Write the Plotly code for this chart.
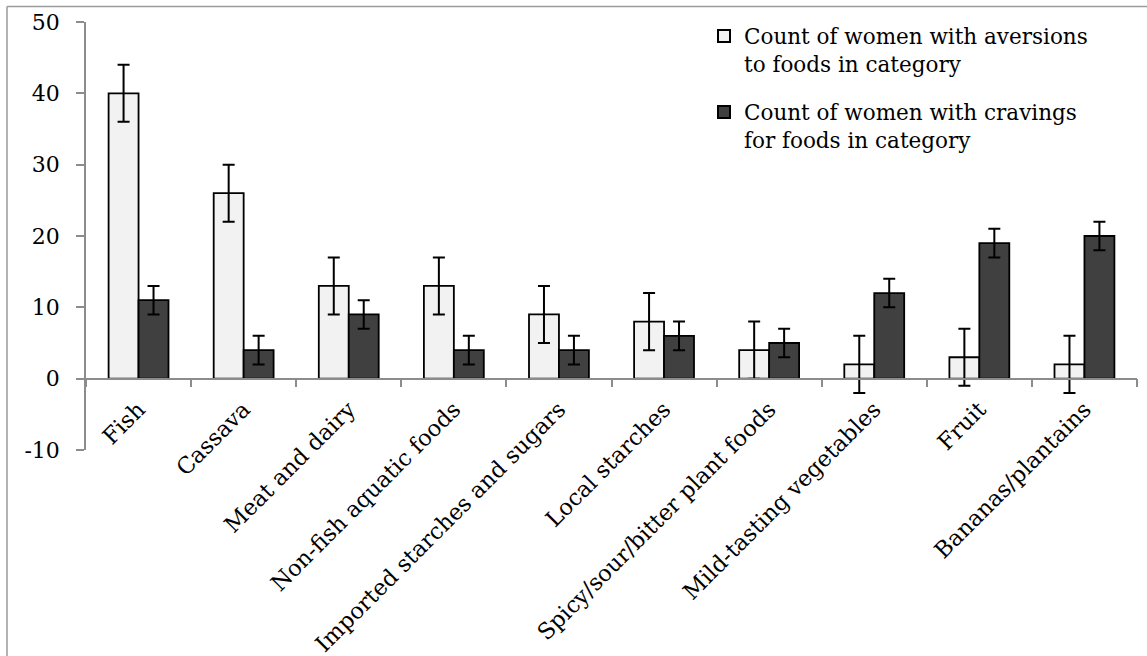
import plotly.graph_objects as go

categories = [
    "Fish", "Cassava", "Meat and dairy", "Non-fish aquatic foods",
    "Imported starches and sugars", "Local starches",
    "Spicy/sour/bitter plant foods", "Mild-tasting vegetables",
    "Fruit", "Bananas/plantains",
]
aversions = [40, 26, 13, 13, 9, 8, 4, 2, 3, 2]
aversions_err = [4, 4, 4, 4, 4, 4, 4, 4, 4, 4]
cravings = [11, 4, 9, 4, 4, 6, 5, 12, 19, 20]
cravings_err = [2, 2, 2, 2, 2, 2, 2, 2, 2, 2]

series_names = [
    "Count of women with aversions<br>to foods in category",
    "Count of women with cravings<br>for foods in category",
]
y_ticks = [-10, 0, 10, 20, 30, 40, 50]
y_tick_text = ["-10", "0", "10", "20", "30", "40", "50"]

FONT = "DejaVu Serif"
AXIS_GREY = "#8c8c8c"

W, H = 1147, 656
L, R, T, B = 86, 10, 21.5, 206
plot_w = W - L - R
plot_h = H - T - B


def px_x(px):
    return (px - L) / plot_w


def px_y(py):
    return (H - B - py) / plot_h


fig = go.Figure()
fig.add_trace(go.Bar(
    x=categories, y=aversions, name=series_names[0], legendgroup="a",
    marker=dict(color="#f2f2f2", line=dict(color="black", width=1.8)),
    error_y=dict(type="data", array=aversions_err, color="black",
                 thickness=2, width=6),
))
fig.add_trace(go.Bar(
    x=categories, y=cravings, name=series_names[1], legendgroup="c",
    marker=dict(color="#404040", line=dict(color="black", width=1.8)),
    error_y=dict(type="data", array=cravings_err, color="black",
                 thickness=2, width=6),
))

# outer frame of the chart area
frame_x = px_x(7)
frame_y = px_y(6)
fig.add_shape(type="line", xref="paper", yref="paper",
              x0=frame_x, x1=frame_x, y0=frame_y, y1=-1,
              line=dict(color="#9a9a9a", width=1.5))
fig.add_shape(type="line", xref="paper", yref="paper",
              x0=frame_x, x1=1.2, y0=frame_y, y1=frame_y,
              line=dict(color="#9a9a9a", width=1.5))

fig.update_layout(
    width=W, height=H, autosize=False,
    margin=dict(l=L, r=R, t=T, b=B, pad=0, autoexpand=False),
    paper_bgcolor="white", plot_bgcolor="white",
    barmode="group", bargap=0.43, bargroupgap=0,
    font=dict(family=FONT, size=22, color="black"),
    legend=dict(
        x=px_x(704), y=px_y(15), xanchor="left", yanchor="top",
        bgcolor="rgba(0,0,0,0)", valign="top",
        traceorder="grouped", tracegroupgap=17,
        font=dict(family=FONT, size=21.5, color="black"),
        itemsizing="constant",
    ),
    xaxis=dict(
        type="category", anchor="free", position=1 / 6,
        automargin=False,
        showline=True, linecolor=AXIS_GREY, linewidth=1.5,
        ticks="outside", tickson="boundaries", ticklen=8,
        tickcolor=AXIS_GREY, tickwidth=1.5,
        tickangle=-45, showgrid=False, zeroline=False,
        tickfont=dict(family=FONT, size=22.5, color="black"),
        ticklabelstandoff=8,
    ),
    yaxis=dict(
        range=[-10, 50], tickvals=y_ticks, ticktext=y_tick_text,
        automargin=False,
        showgrid=False, zeroline=False,
        showline=True, linecolor=AXIS_GREY, linewidth=1.5,
        ticks="outside", ticklen=8, tickcolor=AXIS_GREY, tickwidth=1.5,
        tickfont=dict(family=FONT, size=22, color="black"),
        ticklabelstandoff=12,
    ),
)

fig.write_html("out.html")
